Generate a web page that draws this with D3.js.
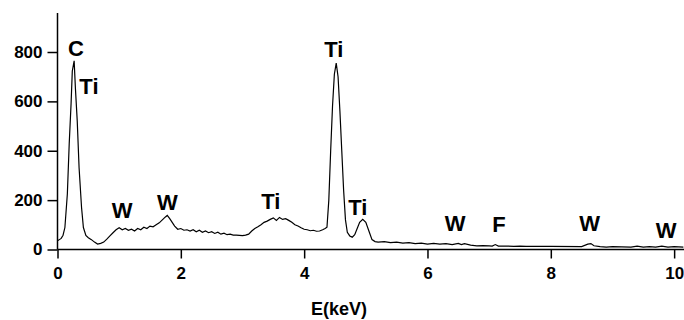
<!DOCTYPE html>
<html>
<head>
<meta charset="utf-8">
<script src="https://cdn.jsdelivr.net/npm/d3@7"></script>
<style>
  body { margin: 0; background: #fff; }
  text { font-family: "Liberation Sans", Arial, sans-serif; font-weight: bold; }
</style>
</head>
<body>
<script>
// EDS spectrum
let energy = [
  0.00, 0.03, 0.06, 0.09, 0.12, 0.16, 0.19, 0.22, 0.24, 0.27, 0.29, 0.32, 0.35, 0.39, 0.42, 0.46,
  0.50, 0.55, 0.60, 0.65, 0.70, 0.75, 0.80, 0.85, 0.90, 0.95, 1.00, 1.05, 1.10, 1.15, 1.20, 1.25,
  1.30, 1.35, 1.40, 1.45, 1.50, 1.55, 1.60, 1.65, 1.70, 1.75, 1.78, 1.82, 1.86, 1.90, 1.95, 2.00,
  2.05, 2.10, 2.15, 2.20, 2.25, 2.30, 2.35, 2.40, 2.45, 2.50, 2.55, 2.60, 2.65, 2.70, 2.75, 2.80,
  2.85, 2.90, 2.95, 3.00, 3.05, 3.10, 3.15, 3.20, 3.25, 3.30, 3.35, 3.40, 3.45, 3.50, 3.55, 3.60,
  3.65, 3.70, 3.75, 3.80, 3.85, 3.90, 3.95, 4.00, 4.05, 4.10, 4.15, 4.20, 4.25, 4.30, 4.34, 4.37,
  4.40, 4.43, 4.46, 4.49, 4.52, 4.55, 4.58, 4.61, 4.64, 4.67, 4.70, 4.74, 4.78, 4.82, 4.86, 4.90,
  4.95, 5.00, 5.05, 5.10, 5.15, 5.20, 5.30, 5.40, 5.50, 5.60, 5.70, 5.80, 5.90, 6.00, 6.10, 6.20,
  6.30, 6.40, 6.50, 6.55, 6.60, 6.70, 6.80, 6.90, 7.00, 7.05, 7.10, 7.15, 7.30, 7.40, 7.50, 7.60,
  8.00, 8.50, 8.60, 8.65, 8.70, 8.80, 8.90, 9.00, 9.30, 9.40, 9.50, 9.60, 9.70, 9.80, 9.90, 10.00,
  10.15
];
let counts = [
  35, 40, 45, 58, 89, 226, 428, 590, 723, 764, 655, 521, 331, 170, 89, 57,
  48, 40, 30, 22, 25, 30, 42, 55, 68, 80, 88, 80, 85, 78, 82, 75,
  85, 80, 90, 85, 95, 92, 100, 108, 120, 132, 138, 125, 110, 95, 82, 85,
  78, 80, 75, 80, 72, 78, 70, 75, 68, 72, 65, 70, 62, 66, 60, 62,
  58, 58, 57, 56, 58, 62, 75, 85, 92, 100, 110, 115, 122, 128, 118, 130,
  122, 125, 118, 110, 100, 95, 88, 82, 80, 76, 78, 74, 75, 80, 85, 90,
  200, 400, 580, 710, 755, 700, 560, 400, 240, 120, 70, 55, 50, 60, 85, 110,
  122, 110, 75, 40, 32, 30, 32, 28, 30, 26, 28, 24, 26, 22, 25, 22,
  24, 20, 25, 20, 24, 18, 15, 16, 15, 14, 20, 14, 14, 13, 14, 13,
  13, 12, 22, 24, 15, 12, 10, 12, 10, 14, 10, 12, 10, 14, 10, 12,
  10
];

let xTicks = [0, 2, 4, 6, 8, 10];
let yTicks = [0, 200, 400, 600, 800];

// peak annotations: element, energy (keV), counts level of the label baseline
let peakNames = ["C", "Ti", "W", "W", "Ti", "Ti", "Ti", "W", "F", "W", "W"];
let peakEnergy = [0.30, 0.51, 1.05, 1.78, 3.46, 4.48, 4.87, 6.45, 7.16, 8.63, 9.87];
let peakCount = [784, 629, 126, 162, 166, 780, 138, 73, 69, 73, 45];

let width = 684;
let height = 320;

let svg = d3.select("body")
  .append("svg")
  .attr("width", width)
  .attr("height", height);

let xScale = d3.scaleLinear()
  .domain([0, 10.16])
  .range([57.5, 684]);

let yScale = d3.scaleLinear()
  .domain([0, 958])
  .range([249.5, 13]);

let xAxis = d3.axisBottom(xScale)
  .tickValues(xTicks)
  .tickSize(9)
  .tickPadding(8)
  .tickFormat(d3.format("d"));

let yAxis = d3.axisLeft(yScale)
  .tickValues(yTicks)
  .tickSize(10)
  .tickPadding(5)
  .tickFormat(d3.format("d"));

let gx = svg.append("g")
  .attr("transform", "translate(0," + yScale(0) + ")")
  .call(xAxis);

let gy = svg.append("g")
  .attr("transform", "translate(" + xScale(0) + ",0)")
  .call(yAxis);

[gx, gy].forEach(g => {
  g.select(".domain").attr("stroke", "#000").attr("stroke-width", 1.5);
  g.selectAll(".tick line").attr("stroke", "#000").attr("stroke-width", 1.5);
  g.selectAll(".tick text")
    .attr("fill", "#000")
    .style("font-size", "17px")
    .style("font-weight", "bold");
});

// y axis runs past the last tick; draw the domain without end caps
gy.select(".domain").attr("d", "M0," + yScale(958) + "V" + yScale(0));
gx.select(".domain").attr("d", "M" + xScale(0) + ",0H" + xScale(10.16));

let line = d3.line()
  .x((d, i) => xScale(energy[i]))
  .y((d, i) => yScale(counts[i]));

svg.append("path")
  .datum(counts)
  .attr("d", line)
  .attr("fill", "none")
  .attr("stroke", "#000")
  .attr("stroke-width", 1.2);

svg.selectAll("text.peak")
  .data(peakNames)
  .enter()
  .append("text")
  .attr("class", "peak")
  .attr("x", (d, i) => xScale(peakEnergy[i]))
  .attr("y", (d, i) => yScale(peakCount[i]))
  .attr("text-anchor", "middle")
  .style("font-size", "22px")
  .attr("fill", "#000")
  .text(d => d);

svg.append("text")
  .attr("x", 339)
  .attr("y", 315)
  .attr("text-anchor", "middle")
  .style("font-size", "18px")
  .attr("fill", "#000")
  .text("E(keV)");
</script>
</body>
</html>
